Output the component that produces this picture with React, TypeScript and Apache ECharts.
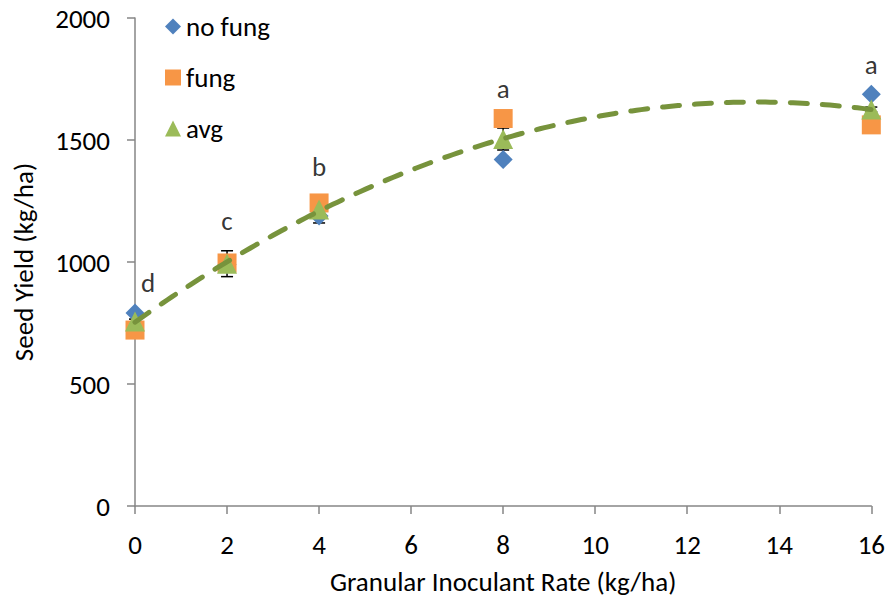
import React, { useEffect, useRef } from "react";
import * as echarts from "echarts";

// Granular inoculant rate (kg/ha)
const rates = [0, 2, 4, 8, 16];
// Seed yield (kg/ha)
const noFung = [791, 990, 1189, 1420, 1688];
const fung = [721, 996, 1242, 1588, 1562];
const avg = [756, 993, 1215, 1504, 1625];
const avgErr = [10, 53, 55, 45, 10];
// Mean separation letters
const letters = ["d", "c", "b", "a", "a"];

const yTicks = { min: 0, max: 2000, interval: 500 };
const xTicks = { min: 0, max: 16, interval: 2 };

const FONT = "Carlito, Calibri, Lato, sans-serif";
const FS = 27;

// Least-squares quadratic through the averages (polynomial trendline)
function quadFit(xs: number[], ys: number[]) {
  let s0 = 0, s1 = 0, s2 = 0, s3 = 0, s4 = 0, t0 = 0, t1 = 0, t2 = 0;
  xs.forEach((x, i) => {
    const y = ys[i];
    s0 += 1; s1 += x; s2 += x * x; s3 += x * x * x; s4 += x * x * x * x;
    t0 += y; t1 += x * y; t2 += x * x * y;
  });
  const M = [
    [s0, s1, s2, t0],
    [s1, s2, s3, t1],
    [s2, s3, s4, t2],
  ];
  for (let c = 0; c < 3; c++) {
    for (let r = c + 1; r < 3; r++) {
      const f = M[r][c] / M[c][c];
      for (let k = c; k < 4; k++) M[r][k] -= f * M[c][k];
    }
  }
  const coef = [0, 0, 0];
  for (let r = 2; r >= 0; r--) {
    let s = M[r][3];
    for (let k = r + 1; k < 3; k++) s -= M[r][k] * coef[k];
    coef[r] = s / M[r][r];
  }
  return coef;
}

export default function App() {
  const ref = useRef<HTMLDivElement>(null);

  useEffect(() => {
    if (!ref.current) return;
    const chart = echarts.init(ref.current, undefined, { renderer: "svg" });

    const [a, b, c] = quadFit(rates, avg);
    const trend: number[][] = [];
    const xMax = rates[rates.length - 1];
    for (let i = 0; i <= 160; i++) {
      const x = (xMax * i) / 160;
      trend.push([x, a + b * x + c * x * x]);
    }

    const errData = rates.map((x, i) => [x, avg[i] - avgErr[i], avg[i] + avgErr[i]]);
    const letterData = rates.map((x, i) => ({
      value: [x, Math.max(noFung[i], fung[i], avg[i] + avgErr[i])],
      label: { offset: x === 0 ? [13, 0] : [0, 0] },
    }));

    const axisColor = "#868686";

    chart.setOption({
      animation: false,
      backgroundColor: "#ffffff",
      textStyle: { fontFamily: FONT },
      grid: { left: 135, right: 16, top: 18, bottom: 96 },
      legend: {
        data: ["no fung", "fung", "avg"],
        orient: "vertical",
        left: 160,
        top: 8,
        itemGap: 24,
        itemWidth: 16,
        itemHeight: 16,
        textStyle: { fontSize: FS, color: "#000", fontFamily: FONT },
      },
      xAxis: {
        type: "value",
        min: xTicks.min,
        max: xTicks.max,
        interval: xTicks.interval,
        name: "Granular Inoculant Rate (kg/ha)",
        nameLocation: "middle",
        nameGap: 62,
        nameTextStyle: { fontSize: FS, color: "#000", fontFamily: FONT },
        axisLine: { lineStyle: { color: axisColor, width: 1.5 } },
        axisTick: { length: 8, lineStyle: { color: axisColor, width: 1.5 } },
        axisLabel: { fontSize: FS, color: "#000", margin: 25, fontFamily: FONT },
        splitLine: { show: false },
      },
      yAxis: {
        type: "value",
        min: yTicks.min,
        max: yTicks.max,
        interval: yTicks.interval,
        name: "Seed Yield (kg/ha)",
        nameLocation: "middle",
        nameGap: 98,
        nameTextStyle: { fontSize: FS, color: "#000", fontFamily: FONT },
        axisLine: { show: true, lineStyle: { color: axisColor, width: 1.5 } },
        axisTick: { show: true, length: 8, lineStyle: { color: axisColor, width: 1.5 } },
        axisLabel: {
          fontSize: FS,
          color: "#000",
          margin: 25,
          fontFamily: FONT,
          formatter: (v: number) => String(v),
        },
        splitLine: { show: false },
      },
      series: [
        {
          type: "custom",
          name: "err",
          z: 1,
          encode: { x: 0, y: [1, 2] },
          data: errData,
          renderItem: (params: any, api: any) => {
            const x = api.value(0);
            const lo = api.coord([x, api.value(1)]);
            const hi = api.coord([x, api.value(2)]);
            const w = 6;
            const style = { stroke: "#000", lineWidth: 1.5 };
            return {
              type: "group",
              children: [
                { type: "line", shape: { x1: lo[0], y1: lo[1], x2: hi[0], y2: hi[1] }, style },
                { type: "line", shape: { x1: lo[0] - w, y1: lo[1], x2: lo[0] + w, y2: lo[1] }, style },
                { type: "line", shape: { x1: hi[0] - w, y1: hi[1], x2: hi[0] + w, y2: hi[1] }, style },
              ],
            };
          },
        },
        {
          type: "scatter",
          name: "no fung",
          z: 2,
          symbol: "diamond",
          symbolSize: 19,
          itemStyle: { color: "#4F81BD", opacity: 1 },
          data: rates.map((x, i) => [x, noFung[i]]),
        },
        {
          type: "scatter",
          name: "fung",
          z: 3,
          symbol: "rect",
          symbolSize: 19,
          itemStyle: { color: "#F79646", opacity: 1 },
          data: rates.map((x, i) => [x, fung[i]]),
        },
        {
          type: "scatter",
          name: "avg",
          z: 4,
          symbol: "triangle",
          symbolSize: [20, 20],
          itemStyle: { color: "#9BBB59", opacity: 1 },
          data: rates.map((x, i) => [x, avg[i]]),
        },
        {
          type: "line",
          name: "trend",
          z: 5,
          showSymbol: false,
          symbol: "none",
          smooth: false,
          data: trend,
          lineStyle: { color: "#77933C", width: 5, type: [17, 15], cap: "round" },
        },
        {
          type: "scatter",
          name: "letters",
          z: 6,
          symbolSize: 1,
          itemStyle: { color: "transparent" },
          data: letterData,
          label: {
            show: true,
            position: "top",
            distance: 16,
            fontSize: FS,
            color: "#000",
            fontFamily: FONT,
            formatter: (p: any) => letters[p.dataIndex],
          },
        },
      ],
    });

    return () => chart.dispose();
  }, []);

  return (
    <div
      ref={ref}
      style={{ position: "fixed", left: 0, top: 0, width: 888, height: 602 }}
    />
  );
}
